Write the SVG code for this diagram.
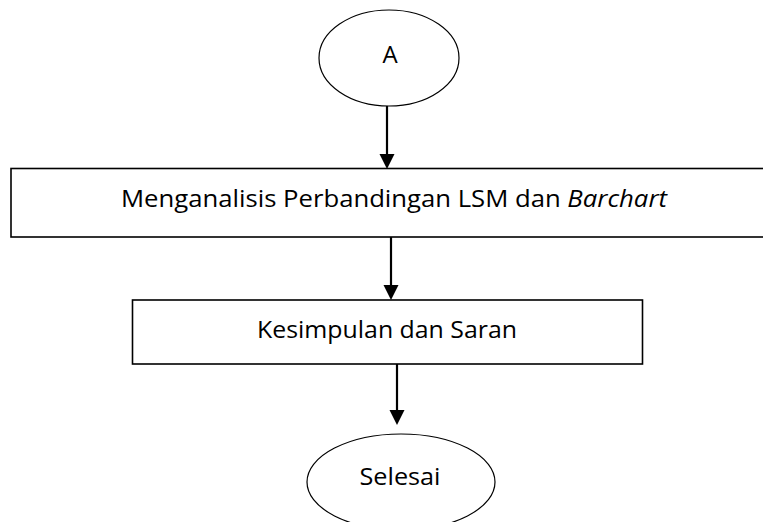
<svg xmlns="http://www.w3.org/2000/svg" width="763" height="522" viewBox="0 0 763 522">
<style>
.shape{fill:#fff;stroke:#000;stroke-width:1.2}
.box{fill:#fff;stroke:#000;stroke-width:1.6}
.lbl{font-family:"Open Sans","Liberation Sans",sans-serif;font-size:24px;fill:#000;text-anchor:middle}
.conn{stroke:#000;stroke-width:2.2;fill:none}
</style>
<defs>
<marker id="ah" markerUnits="userSpaceOnUse" markerWidth="16" markerHeight="15" refX="8" refY="15" orient="auto-start-reverse" viewBox="0 0 16 15">
<path d="M0,0 L16,0 L8,15 Z" fill="#000" transform="rotate(0)"/>
</marker>
</defs>
<rect width="763" height="522" fill="#fff"/>
<g id="connectors">
<line class="conn" x1="387" y1="106" x2="387" y2="155"/>
<path d="M379.5,154 L394.5,154 L387,169 Z" fill="#000"/>
<line class="conn" x1="391" y1="237" x2="391" y2="286"/>
<path d="M383.5,285 L398.5,285 L391,300 Z" fill="#000"/>
<line class="conn" x1="397" y1="364" x2="397" y2="411"/>
<path d="M389.5,410 L404.5,410 L397,425 Z" fill="#000"/>
</g>
<g id="node-a">
<ellipse class="shape" cx="389" cy="58" rx="70" ry="48"/>
<text class="lbl" x="390" y="63">A</text>
</g>
<g id="node-analisis">
<rect class="box" x="11" y="168.5" width="760" height="68.5"/>
<text class="lbl" x="394" y="207" textLength="546" lengthAdjust="spacingAndGlyphs">Menganalisis Perbandingan LSM dan <tspan font-style="italic">Barchart</tspan></text>
</g>
<g id="node-kesimpulan">
<rect class="box" x="132.5" y="300" width="510" height="64"/>
<text class="lbl" x="387" y="338" textLength="260" lengthAdjust="spacingAndGlyphs">Kesimpulan dan Saran</text>
</g>
<g id="node-selesai">
<ellipse class="shape" cx="401" cy="482" rx="94" ry="48"/>
<text class="lbl" x="400" y="485" textLength="81" lengthAdjust="spacingAndGlyphs">Selesai</text>
</g>
</svg>
